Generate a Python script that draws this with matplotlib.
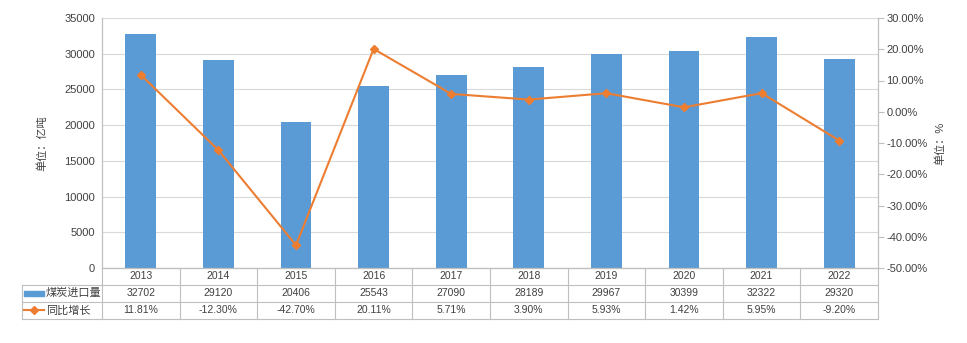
import numpy as np
import matplotlib.pyplot as plt
from matplotlib.lines import Line2D
from matplotlib.patches import Rectangle

plt.rcParams['font.family'] = ['Liberation Sans', 'Noto Sans CJK SC']

years = ['2013', '2014', '2015', '2016', '2017', '2018', '2019', '2020', '2021', '2022']
imports = [32702, 29120, 20406, 25543, 27090, 28189, 29967, 30399, 32322, 29320]
growth = [11.81, -12.30, -42.70, 20.11, 5.71, 3.90, 5.93, 1.42, 5.95, -9.20]
bar_name = '煤炭进口量'
line_name = '同比增长'

blue = '#5B9BD5'
orange = '#ED7D31'
grid = '#D9D9D9'
edge = '#BFBFBF'
txt = '#404040'

W, H = 967, 343
fig = plt.figure(figsize=(W / 100, H / 100), dpi=100)
x0, x1, yt, yb = 102, 878, 18, 268
ax = fig.add_axes([x0 / W, 1 - yb / H, (x1 - x0) / W, (yb - yt) / H])
ax2 = ax.twinx()

x = np.arange(len(years))
ax.bar(x, imports, width=0.395, color=blue, zorder=2)
ax.set_xlim(-0.5, len(years) - 0.5)
ax.set_ylim(0, 35000)
ax.set_yticks(range(0, 35001, 5000))
ax.yaxis.grid(True, color=grid, lw=0.8, zorder=0)
ax.set_axisbelow(True)
ax.set_xticks([])
ax.tick_params(axis='y', length=0, labelsize=8, labelcolor=txt, pad=5)

ax2.plot(x, growth, color=orange, lw=1.5, marker='D', ms=4.5, zorder=3)
ax2.set_ylim(-50, 30)
ax2.set_yticks(range(-50, 31, 10))
ax2.set_yticklabels(['%.2f%%' % v for v in range(-50, 31, 10)])
ax2.tick_params(axis='y', length=4, color=edge, labelsize=8, labelcolor=txt, pad=2)

for a in (ax, ax2):
    a.spines['top'].set_visible(False)
    for s in ('left', 'right', 'bottom'):
        a.spines[s].set_color(edge)
        a.spines[s].set_linewidth(0.8)

fig.text(42 / W, 1 - 143 / H, '单位：亿吨', rotation=90, ha='center', va='center',
         fontsize=8, color=txt)
fig.text(940 / W, 1 - 143 / H, '单位：%', rotation=90, ha='center', va='center',
         fontsize=8, color=txt)

# data table below the plot
ph = yb - yt
rows = [268, 284.5, 301.5, 319]
ry = [(yb - r) / ph for r in rows]
lx = (22 - x0) / (x1 - x0)
tr = ax.transAxes
kw = dict(transform=tr, color=edge, lw=0.8, clip_on=False)
ax.add_line(Line2D([0, 1], [ry[0], ry[0]], **kw))
for r in ry[1:]:
    ax.add_line(Line2D([lx, 1], [r, r], **kw))
ax.add_line(Line2D([lx, lx], [ry[1], ry[3]], **kw))
for i in range(len(years) + 1):
    ax.add_line(Line2D([i / len(years)] * 2, [ry[0], ry[3]], **kw))

mid = [(ry[i] + ry[i + 1]) / 2 for i in range(3)]
for i, y in enumerate(years):
    cx = (i + 0.5) / len(years)
    ax.text(cx, mid[0], y, transform=tr, ha='center', va='center', fontsize=7.5, color=txt)
    ax.text(cx, mid[1], str(imports[i]), transform=tr, ha='center', va='center',
            fontsize=7.5, color=txt)
    ax.text(cx, mid[2], '%.2f%%' % growth[i], transform=tr, ha='center', va='center',
            fontsize=7.5, color=txt)

sx0 = (24 - x0) / (x1 - x0)
sx1 = (44 - x0) / (x1 - x0)
ax.add_patch(Rectangle((sx0, mid[1] - 2.5 / ph), sx1 - sx0, 5 / ph, transform=tr,
                       color=blue, clip_on=False))
ax.add_line(Line2D([sx0, sx1], [mid[2], mid[2]], transform=tr, color=orange, lw=1.5,
                   clip_on=False))
ax.add_line(Line2D([(sx0 + sx1) / 2], [mid[2]], transform=tr, color=orange, marker='D',
                   ms=4, clip_on=False))
tx = (46 - x0) / (x1 - x0)
ax.text(tx, mid[1], bar_name, transform=tr, ha='left', va='center', fontsize=8, color=txt)
ax.text(tx, mid[2], line_name, transform=tr, ha='left', va='center', fontsize=8, color=txt)

fig.savefig('out.png', dpi=100)
